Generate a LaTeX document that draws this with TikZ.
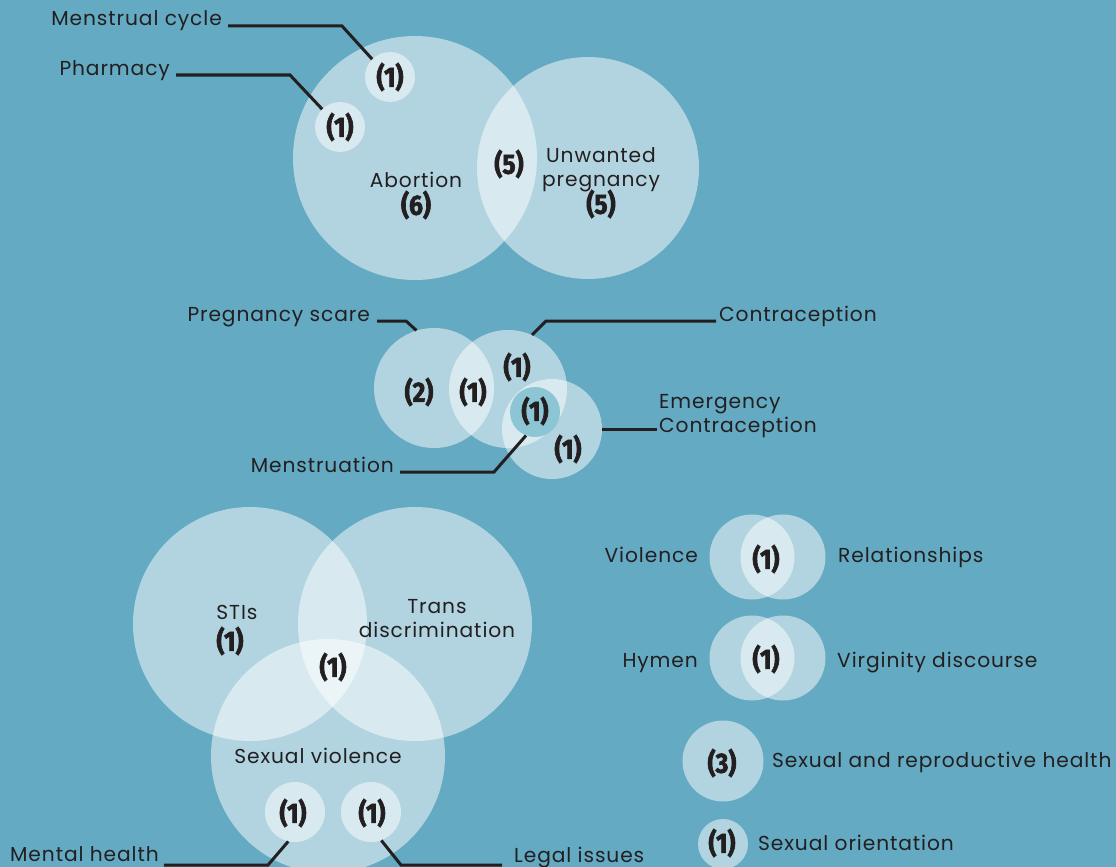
\documentclass[tikz,border=0pt]{standalone}
\usepackage{fontspec}
\setmainfont{Poppins}[LetterSpace=4.5]
\newfontfamily\numfont[FakeStretch=0.88,FakeBold=2.2]{Fira Sans}
\definecolor{bg}{HTML}{63AAC2}
\definecolor{ink}{HTML}{231F20}
\definecolor{mensfill}{HTML}{8CC5D3}
\tikzset{
  blob/.style={circle, fill=white, fill opacity=0.5, draw=none, inner sep=0pt},
  mensblob/.style={circle, fill=mensfill, draw=none, inner sep=0pt},
  lbl/.style={text=ink, font=\fontsize{20.2}{24}\selectfont, inner sep=0pt},
  num/.style={text=ink, font=\numfont\bfseries\fontsize{28}{28}\selectfont, inner sep=0pt},
  lead/.style={draw=ink, line width=3pt},
}
\begin{document}
\begin{tikzpicture}[x=1pt,y=-1pt]
\useasboundingbox (0,0) rectangle (1116,867);
\fill[bg] (0,0) rectangle (1116,867);

% ---------- top group ----------
\node[blob, minimum size=244] (abo) at (415,158) {};
\node[blob, minimum size=222] (unw) at (588,168) {};
\node[blob, minimum size=50] (cyc) at (390,77) {};
\node[blob, minimum size=50] (pha) at (340,127) {};
\node[num] (ncyc) at (390,77) {(1)};
\node[num] (npha) at (340,127) {(1)};
\node[lbl] (tabo) at (416,180) {Abortion};
\node[num] (nabo) at (416,205) {(6)};
\node[num] (nau) at (509,164) {(5)};
\node[lbl, align=center] (tunw) at (601,170) {Unwanted\\pregnancy};
\node[num] (nunw) at (601,204) {(5)};

\node[lbl, anchor=base east] (tcyc) at (222,26) {Menstrual cycle};
\coordinate (e1) at (342,26);
\draw[lead] ([xshift=6pt]tcyc.base east) -- (e1) -- (cyc.135);
\node[lbl, anchor=base east] (tpha) at (170,75) {Pharmacy};
\coordinate (e2) at (290,75);
\draw[lead] ([xshift=6pt]tpha.base east) -- (e2) -- (pha.135);

% ---------- middle group ----------
\node[blob, minimum size=120] (psc) at (434,388) {};
\node[blob, minimum size=118] (con) at (508,389) {};
\node[blob, minimum size=100] (emc) at (552,429) {};
\node[mensblob, minimum size=50] (men) at (535,412) {};
\node[num] (npsc) at (419,392) {(2)};
\node[num] (npc) at (473,392) {(1)};
\node[num] (ncon) at (517,367) {(1)};
\node[num] (nmen) at (535,411) {(1)};
\node[num] (nemc) at (568,449) {(1)};

\node[lbl, anchor=base east] (tpsc) at (370,321) {Pregnancy scare};
\coordinate (e3) at (406,321);
\draw[lead] ([xshift=7pt]tpsc.base east) -- (e3) -- (psc.107);
\node[lbl, anchor=base west] (tcon) at (719,321) {Contraception};
\coordinate (e4) at (546,321);
\draw[lead] ([xshift=-3pt]tcon.base west) -- (e4) -- (con.66);
\node[lbl, anchor=west, align=left] (temc) at (659,416) {Emergency\\Contraception};
\draw[lead] (emc.east) -- ([xshift=-2pt]temc.west |- emc.east);
\node[lbl, anchor=base east] (tmen) at (394,472) {Menstruation};
\coordinate (e5) at (494,472);
\draw[lead] ([xshift=6pt]tmen.base east) -- (e5) -- (men.249);

% ---------- bottom-left group ----------
\node[blob, minimum size=234] (sti) at (250,624) {};
\node[blob, minimum size=234] (tra) at (415,624) {};
\node[blob, minimum size=234] (sxv) at (328,756) {};
\node[blob, minimum size=60] (mh) at (295,812) {};
\node[blob, minimum size=60] (li) at (371,812) {};
\node[lbl] (tsti) at (237,612) {STIs};
\node[num] (nsti) at (230,641) {(1)};
\node[lbl, align=center] (ttra) at (437,619) {Trans\\discrimination};
\node[num] (nall) at (333,667) {(1)};
\node[lbl] (tsxv) at (318,756) {Sexual violence};
\node[num] (nmh) at (293,813) {(1)};
\node[num] (nli) at (372,813) {(1)};

\node[lbl, anchor=base west] (tmh) at (10,861) {Mental health};
\coordinate (e6) at (268,865);
\draw[lead] ([xshift=5pt,yshift=-4pt]tmh.base east) -- (e6) -- (mh.257);
\node[lbl, anchor=base west] (tli) at (514,862) {Legal issues};
\coordinate (e7) at (401,865);
\draw[lead] (li.290) -- (e7) -- ([xshift=-12pt,yshift=-3pt]tli.base west);

% ---------- right group ----------
\node[blob, minimum size=85] (vio) at (752,557) {};
\node[blob, minimum size=85] (rel) at (783,557) {};
\node[num] (nvr) at (766,559) {(1)};
\node[lbl, anchor=base east] (tvio) at (698,562) {Violence};
\node[lbl, anchor=base west] (trel) at (838,562) {Relationships};

\node[blob, minimum size=85] (hym) at (752,658) {};
\node[blob, minimum size=85] (vir) at (783,658) {};
\node[num] (nhv) at (766,659) {(1)};
\node[lbl, anchor=base east] (thym) at (698,667) {Hymen};
\node[lbl, anchor=base west] (tvir) at (837,667) {Virginity discourse};

\node[blob, minimum size=81] (srh) at (723,761) {};
\node[num] (nsrh) at (722,763) {(3)};
\node[lbl, anchor=base west] (tsrh) at (772,767) {Sexual and reproductive health};

\node[blob, minimum size=50] (sor) at (723,844) {};
\node[num] (nsor) at (722,843) {(1)};
\node[lbl, anchor=base west] (tsor) at (758,850) {Sexual orientation};
\end{tikzpicture}
\end{document}
